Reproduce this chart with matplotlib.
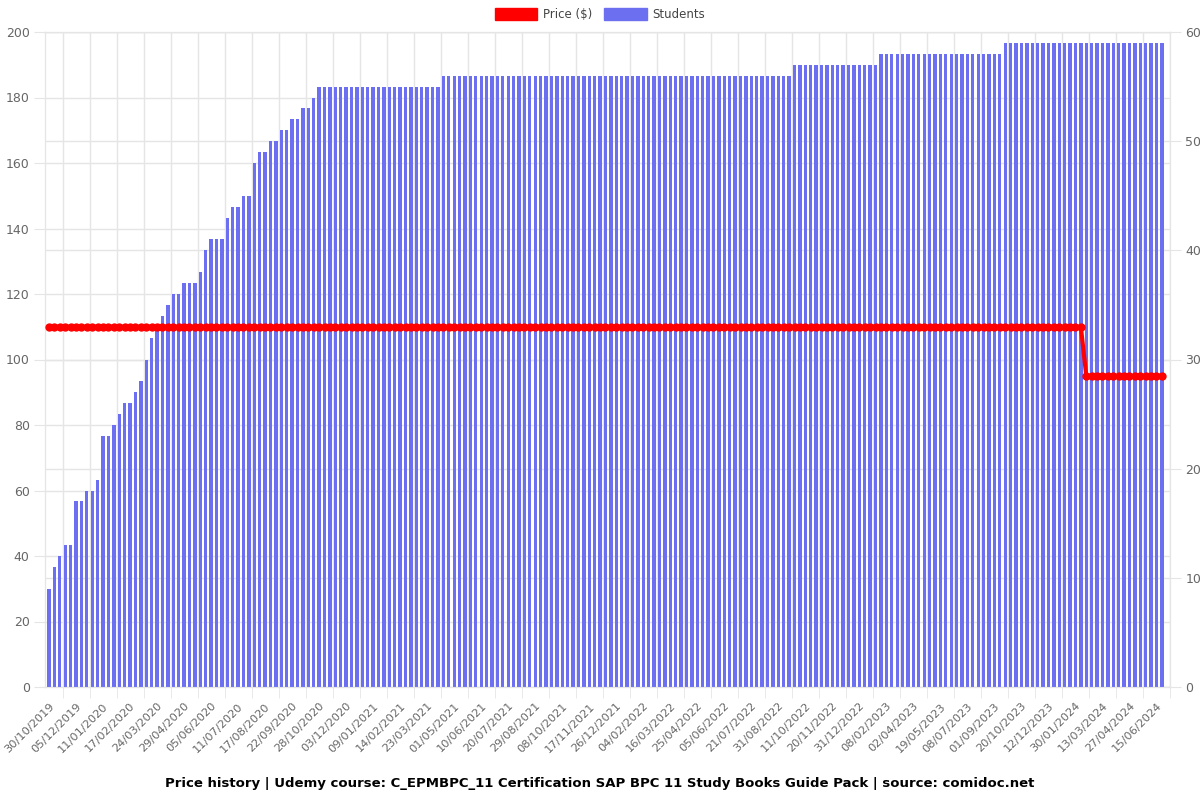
import numpy as np
import matplotlib.pyplot as plt

# tick labels (one every 5 bars)
date_labels = ['30/10/2019', '05/12/2019', '11/01/2020', '17/02/2020', '24/03/2020', '29/04/2020',
               '05/06/2020', '11/07/2020', '17/08/2020', '22/09/2020', '28/10/2020', '03/12/2020',
               '09/01/2021', '14/02/2021', '23/03/2021', '01/05/2021', '10/06/2021', '20/07/2021',
               '29/08/2021', '08/10/2021', '17/11/2021', '26/12/2021', '04/02/2022', '16/03/2022',
               '25/04/2022', '05/06/2022', '21/07/2022', '31/08/2022', '11/10/2022', '20/11/2022',
               '31/12/2022', '08/02/2023', '02/04/2023', '19/05/2023', '08/07/2023', '01/09/2023',
               '20/10/2023', '12/12/2023', '30/01/2024', '13/03/2024', '27/04/2024', '15/06/2024']

# students per data point
students = [9, 11, 12, 13, 13, 17, 17, 18, 18, 19,
            23, 23, 24, 25, 26, 26, 27, 28, 30, 32,
            33, 34, 35, 36, 36, 37, 37, 37, 38, 40,
            41, 41, 41, 43, 44, 44, 45, 45, 48, 49,
            49, 50, 50, 51, 51, 52, 52, 53, 53, 54] \
    + [55] * 23 + [56] * 65 + [57] * 16 + [58] * 23 + [59] * 30

# price per data point
price = [110] * 192 + [95] * 15

n = len(students)
x = np.arange(n)
label_step = 5

grid_col = '#e5e5e5'
text_col = '#666666'
rect = [0.0375, 0.14125, 0.9375, 0.81875]

fig = plt.figure(figsize=(12, 8), dpi=100)

# left axis: price scale + grid (bottom layer)
ax = fig.add_axes(rect)
ax.set_ylim(0, 200)
ax.set_yticks(np.arange(0, 201, 20))
ax.set_xlim(-0.74, n - 0.3)
ax.set_xticks(x[::label_step])
ax.set_xticklabels(date_labels, rotation=45, ha='right', rotation_mode='anchor')
ax.set_xticks(x[::label_step] + 2.5, minor=True)
ax.tick_params(axis='x', which='major', length=0, pad=10, labelsize=8.2, labelcolor=text_col)
ax.tick_params(axis='x', which='minor', length=8, color=grid_col)
ax.grid(axis='x', which='minor', color=grid_col, linewidth=1)
ax.grid(axis='y', color=grid_col, linewidth=1)
ax.tick_params(axis='y', length=8, color=grid_col, labelsize=9, labelcolor=text_col, pad=3)

# right axis: students bars
ax2 = ax.twinx()
ax2.set_axisbelow(True)
ax2.grid(axis='y', color=grid_col, linewidth=1)
ax2.bar(x, students, width=0.62, color='#6b6ff0', linewidth=0)
ax2.set_ylim(0, 60)
ax2.set_yticks(np.arange(0, 61, 10))
ax2.tick_params(axis='y', length=8, color=grid_col, labelsize=9, labelcolor=text_col, pad=3)

# price line on top of everything
ax3 = fig.add_axes(rect, sharex=ax, sharey=ax)
ax3.patch.set_visible(False)
ax3.axis('off')
ax3.plot(x, price, color='#ff0000', linewidth=3, marker='o', markersize=5)

for a in (ax, ax2):
    for side in a.spines.values():
        side.set_color(grid_col)

# legend boxes at the top
handles = [plt.Rectangle((0, 0), 1, 1, color='#ff0000'),
           plt.Rectangle((0, 0), 1, 1, color='#6b6ff0')]
fig.legend(handles, ['Price ($)', 'Students'], loc='upper center', ncol=2,
           bbox_to_anchor=(0.5, 1.003), frameon=False, fontsize=8.5,
           handlelength=3.6, handleheight=1.2, columnspacing=1.0, handletextpad=0.5,
           labelcolor='#444444')

fig.text(0.5, 0.021, 'Price history | Udemy course: C_EPMBPC_11 Certification SAP BPC 11 Study Books Guide Pack | source: comidoc.net',
         ha='center', va='center', fontsize=9.5, fontweight='bold')

fig.savefig('out.png', dpi=100)
